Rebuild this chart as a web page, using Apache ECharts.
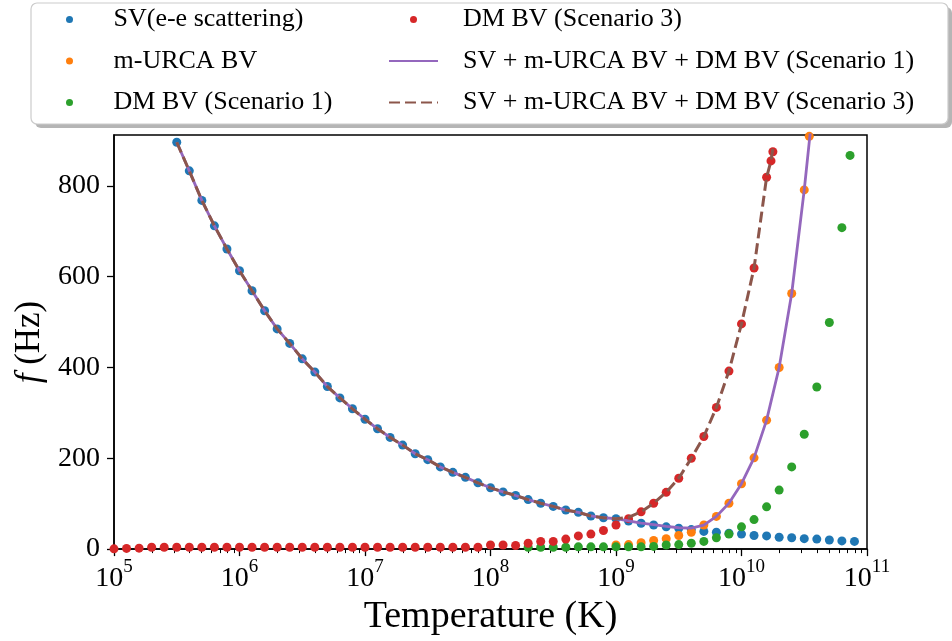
<!DOCTYPE html>
<html><head><meta charset="utf-8">
<script src="https://cdn.jsdelivr.net/npm/echarts@6/dist/echarts.min.js"></script>
<style>html,body{margin:0;padding:0;background:#fff}#c{width:952px;height:641px}</style>
</head><body><div id="c"></div>
<script>
// x values are log10(Temperature / K)
const svLogT = [5.5,5.6,5.7,5.8,5.9,6.0,6.1,6.2,6.3,6.4,6.5,6.6,6.7,6.8,6.9,7.0,7.1,7.2,7.3,7.4,7.5,7.6,7.7,7.8,7.9,8.0,8.1,8.2,8.3,8.4,8.5,8.6,8.7,8.8,8.9,9.0,9.1,9.2,9.3,9.4,9.5,9.6,9.7,9.8,9.9,10.0,10.1,10.2,10.3,10.4,10.5,10.6,10.7,10.8,10.9];
const svF = [896,833,768,712,661,613,569,525,485,453,419,390,358,333,309,286,265,246,229,210,197,181,169,158,146,135,126,118,109,101,94,86,81,73,69,67,62,57,53,49,46,43,39,37,35,33,30,29,26,25,23,22,20,18,17];

const urcaLogT = [9.0,9.1,9.2,9.3,9.4,9.5,9.6,9.7,9.8,9.9,10.0,10.1,10.2,10.3,10.4,10.5,10.54];
const urcaF = [9,10,14,19,23,30,37,53,72,101,144,201,284,400,563,791,909];

const dm1LogT = [8.3,8.4,8.5,8.6,8.7,8.8,8.9,9.0,9.1,9.2,9.3,9.4,9.5,9.6,9.7,9.8,9.9,10.0,10.1,10.2,10.3,10.4,10.5,10.6,10.7,10.8,10.865];
const dm1F = [4,4,4,4,5,5,5,5,5,5,6,9,10,13,17,25,33,49,65,93,130,181,253,357,499,708,867];

const dm3LogT = [5.0,5.1,5.2,5.3,5.4,5.5,5.6,5.7,5.8,5.9,6.0,6.1,6.2,6.3,6.4,6.5,6.6,6.7,6.8,6.9,7.0,7.1,7.2,7.3,7.4,7.5,7.6,7.7,7.8,7.9,8.0,8.1,8.2,8.3,8.4,8.5,8.6,8.7,8.8,8.9,9.0,9.1,9.2,9.3,9.4,9.5,9.6,9.7,9.8,9.9,10.0,10.1,10.2,10.235,10.25];
const dm3F = [0.5,1.5,2,4,4,4,4,4,4,4,4,4,4,4,4,4,4,4,4,4,4,4,4,4,4,4,4,4,4,4,9,9,8,13,17,17,22,29,33,41,53,67,82,101,125,156,200,248,312,392,496,619,819,855,875];

const tot1LogT = [5.5,5.6,5.7,5.8,5.9,6.0,6.1,6.2,6.3,6.4,6.5,6.6,6.7,6.8,6.9,7.0,7.1,7.2,7.3,7.4,7.5,7.6,7.7,7.8,7.9,8.0,8.1,8.2,8.3,8.4,8.5,8.6,8.7,8.8,8.9,9.0,9.1,9.2,9.3,9.4,9.5,9.6,9.7,9.8,9.9,10.0,10.1,10.2,10.3,10.4,10.5,10.56];
const tot1F = [896,833,768,712,661,613,569,525,485,453,419,390,358,333,309,286,265,246,229,210,197,181,169,158,146,135,126,118,109,101,94,86,81,73,69,67,62,57,54,50,47,46,53,72,101,144,201,284,400,563,791,950];

const tot3LogT = [5.5,5.6,5.7,5.8,5.9,6.0,6.1,6.2,6.3,6.4,6.5,6.6,6.7,6.8,6.9,7.0,7.1,7.2,7.3,7.4,7.5,7.6,7.7,7.8,7.9,8.0,8.1,8.2,8.3,8.4,8.5,8.6,8.7,8.8,8.9,9.0,9.1,9.2,9.3,9.4,9.5,9.6,9.7,9.8,9.9,10.0,10.1,10.2,10.235,10.255];
const tot3F = [896,833,768,712,661,613,569,525,485,453,419,390,358,333,309,286,265,246,229,210,197,181,169,158,146,135,126,118,109,101,94,86,81,73,69,67,70,82,101,125,156,200,248,312,392,496,619,819,855,892];

const xMajorTicks = [5,6,7,8,9,10,11];
const yTicks = [0,200,400,600,800];
const xMinorMult = [2,3,4,5,6,7,8,9];

const names = ['SV(e-e scattering)','m-URCA BV','DM BV (Scenario 1)','DM BV (Scenario 3)',
  'SV + m-URCA BV + DM BV (Scenario 1)','SV + m-URCA BV + DM BV (Scenario 3)'];
const colors = ['#1f77b4','#ff7f0e','#2ca02c','#d62728','#9467bd','#8c564b'];

const FONT = '"Liberation Serif", "Times New Roman", serif';
const zip = (xs, ys) => xs.map((x, i) => [x, ys[i]]);
const minorTicks = [];
for (let n = 5; n < 11; n++) for (const m of xMinorMult) minorTicks.push(n + Math.log10(m));

const chart = echarts.init(document.getElementById('c'), null, {renderer: 'canvas'});
const scatter = (i, xs, ys) => ({
  name: names[i], type: 'scatter', data: zip(xs, ys), symbol: 'circle', symbolSize: 9,
  itemStyle: {color: colors[i], opacity: 1}, z: 2, clip: true
});
const legText = {fontFamily: FONT, fontSize: 26, color: '#000', lineHeight: 25};
const option = {
  animation: false,
  backgroundColor: '#fff',
  textStyle: {fontFamily: FONT},
  grid: {left: 114, right: 85, top: 135, bottom: 88, show: true, borderColor: '#000', borderWidth: 1.5, backgroundColor: 'transparent'},
  xAxis: [{
    type: 'value', min: 5, max: 11, interval: 1,
    axisLine: {show: true, lineStyle: {color: '#000', width: 1.5}},
    axisTick: {show: true, length: 7, customValues: xMajorTicks, lineStyle: {color: '#000', width: 1.3}},
    splitLine: {show: false},
    axisLabel: {
      customValues: xMajorTicks, showMinLabel: true, showMaxLabel: true, margin: 8,
      formatter: v => '{b|10}{s|' + v + '}',
      rich: {
        b: {fontFamily: FONT, fontSize: 28, color: '#000', lineHeight: 36, verticalAlign: 'bottom'},
        s: {fontFamily: FONT, fontSize: 19, color: '#000', lineHeight: 36, verticalAlign: 'top'}
      }
    },
    name: 'Temperature (K)', nameLocation: 'middle', nameGap: 40,
    nameTextStyle: {fontFamily: FONT, fontSize: 38, color: '#000'}
  }, {
    type: 'value', min: 5, max: 11, position: 'bottom',
    axisLine: {show: false}, axisLabel: {show: false}, splitLine: {show: false},
    axisTick: {show: true, customValues: minorTicks, length: 4, lineStyle: {color: '#000', width: 1}}
  }],
  yAxis: {
    type: 'value', min: 0, max: 912,
    axisLine: {show: true, lineStyle: {color: '#000', width: 1.5}},
    axisTick: {show: true, length: 7, customValues: yTicks, lineStyle: {color: '#000', width: 1.3}},
    splitLine: {show: false},
    axisLabel: {customValues: yTicks, margin: 14, fontFamily: FONT, fontSize: 28, color: '#000'},
    name: '{i|f} (Hz)', nameLocation: 'middle', nameGap: 59, nameRotate: 90,
    nameTextStyle: {fontFamily: FONT, fontSize: 35, color: '#000',
      rich: {i: {fontFamily: FONT, fontSize: 35, fontStyle: 'italic', color: '#000'}}}
  },
  legend: [{
    orient: 'vertical', left: 66, top: 6.5, padding: 0, itemWidth: 48, itemHeight: 7, itemGap: 15.5,
    data: [{name: names[0], textStyle: legText}, {name: names[1], textStyle: legText}, {name: names[2], textStyle: legText}],
    textStyle: Object.assign({padding: [0, 0, 0, 15]}, legText)
  }, {
    orient: 'vertical', left: 388, top: 6.5, padding: 0, itemWidth: 49, itemHeight: 7, itemGap: 15.5,
    data: [names[3], {name: names[4], itemStyle: {opacity: 0}}, {name: names[5], itemStyle: {opacity: 0}}],
    textStyle: Object.assign({padding: [0, 0, 0, 20]}, legText)
  }],
  graphic: [
    {type: 'rect', z: 0, shape: {x: 35, y: 7, width: 917, height: 121, r: 6}, style: {fill: '#b5b5b5'}},
    {type: 'rect', z: 1, shape: {x: 31, y: 3, width: 917, height: 121, r: 6}, style: {fill: '#fff', stroke: '#cccccc', lineWidth: 1.2}}
  ],
  series: [
    scatter(0, svLogT, svF),
    scatter(1, urcaLogT, urcaF),
    scatter(2, dm1LogT, dm1F),
    scatter(3, dm3LogT, dm3F),
    {name: names[4], type: 'line', data: zip(tot1LogT, tot1F), symbol: 'none', showSymbol: false,
     lineStyle: {color: colors[4], width: 2.8}, itemStyle: {color: colors[4], opacity: 0}, z: 3, clip: true},
    {name: names[5], type: 'line', data: zip(tot3LogT, tot3F), symbol: 'none', showSymbol: false,
     lineStyle: {color: colors[5], width: 3, type: [11, 5]}, itemStyle: {color: colors[5], opacity: 0}, z: 4, clip: true}
  ]
};
chart.setOption(option);
</script>
</body></html>
